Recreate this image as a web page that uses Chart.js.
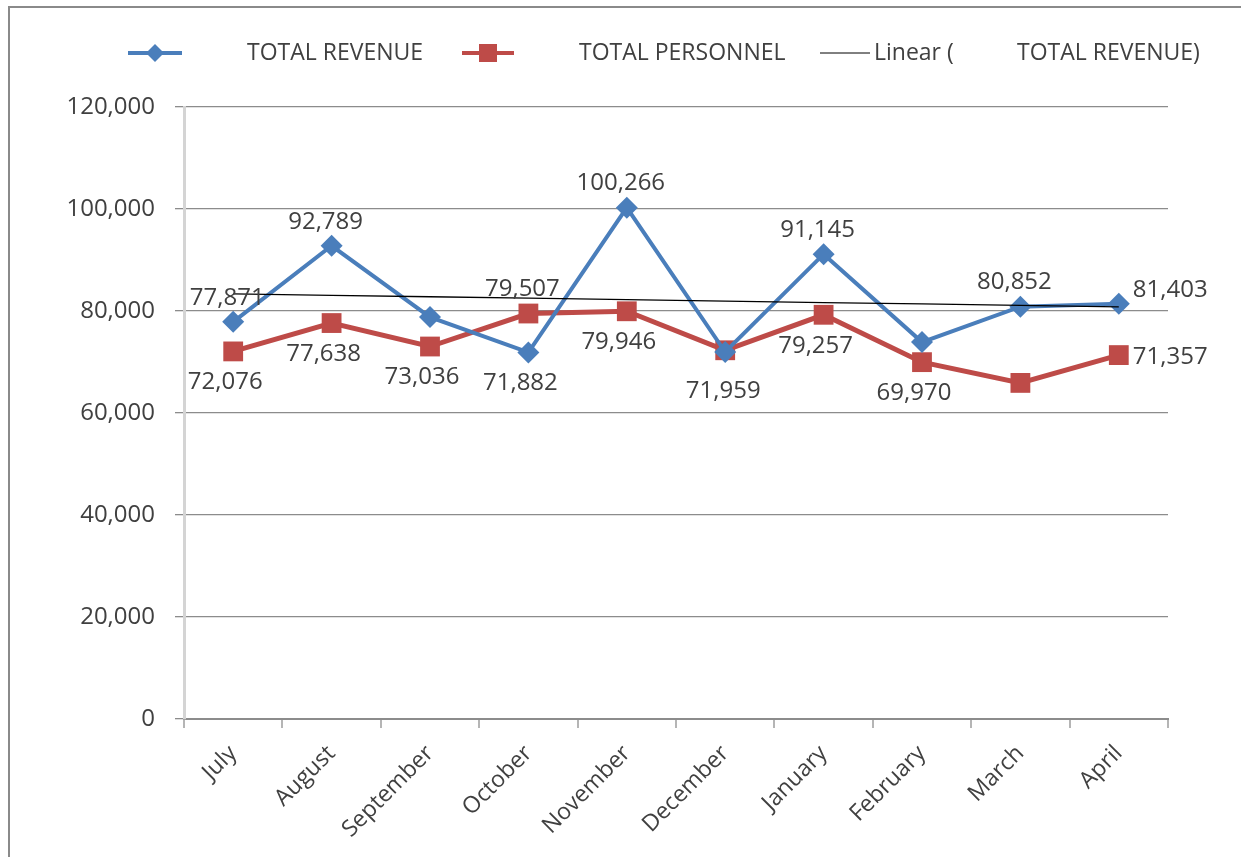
<!DOCTYPE html>
<html>
<head>
<meta charset="utf-8">
<script src="https://cdn.jsdelivr.net/npm/chart.js@4/dist/chart.umd.min.js"></script>
<style>
  html, body { margin: 0; padding: 0; background: #fff; }
  #marco { position: absolute; left: 8px; top: 6px; width: 1240px; height: 860px;
           border-left: 2px solid #8a8a8a; border-top: 2px solid #8a8a8a; }
  canvas { position: absolute; left: 0; top: 0; }
</style>
</head>
<body>
<div id="marco"></div>
<canvas id="grafico" width="1241" height="857"></canvas>
<script>
// Datos
const meses = ['July', 'August', 'September', 'October', 'November', 'December', 'January', 'February', 'March', 'April'];
const ingresos = [77871, 92789, 78800, 71882, 100266, 71959, 91145, 73900, 80852, 81403];
const personal = [72076, 77638, 73036, 79507, 79946, 72300, 79257, 69970, 65900, 71357];
const etiquetasIngresos = ['77,871', '92,789', null, '71,882', '100,266', '71,959', '91,145', null, '80,852', '81,403'];
const etiquetasPersonal = ['72,076', '77,638', '73,036', '79,507', '79,946', null, '79,257', '69,970', null, '71,357'];
const ticksY = [0, 20000, 40000, 60000, 80000, 100000, 120000];

// Posición de cada etiqueta (solo estilo)
const posIngresos = ['above', 'above', null, 'below', 'above', 'belowFar', 'above', null, 'above', 'right'];
const posPersonal = ['below', 'below', 'below', 'above', 'below', null, 'below', 'below', null, 'right'];

// Línea de tendencia lineal (mínimos cuadrados sobre TOTAL REVENUE)
function tendencia(valores) {
    const n = valores.length;
    const mx = (n - 1) / 2;
    const my = valores.reduce((a, b) => a + b, 0) / n;
    let sxy = 0, sxx = 0;
    valores.forEach((v, i) => { sxy += (i - mx) * (v - my); sxx += (i - mx) * (i - mx); });
    const m = sxy / sxx;
    return valores.map((v, i) => my + m * (i - mx));
}

const fuente = '"Open Sans", "DejaVu Sans", sans-serif';
const gris = '#404040';

// Etiquetas de datos
const pluginEtiquetas = {
    id: 'etiquetas',
    afterDatasetsDraw(chart) {
        const ctx = chart.ctx;
        ctx.save();
        ctx.font = '24px ' + fuente;
        ctx.fillStyle = gris;
        ctx.textBaseline = 'middle';
        [[0, etiquetasIngresos, posIngresos], [1, etiquetasPersonal, posPersonal]].forEach(([idx, textos, pos]) => {
            const meta = chart.getDatasetMeta(idx);
            meta.data.forEach((p, i) => {
                if (!textos[i]) return;
                let x = p.x, y = p.y;
                ctx.textAlign = 'center';
                if (pos[i] === 'above') { x -= 6; y -= 24; }
                else if (pos[i] === 'below') { x -= 8; y += 31; }
                else if (pos[i] === 'belowFar') { x -= 2; y += 39; }
                else if (pos[i] === 'right') { ctx.textAlign = 'left'; x += 14; y += (idx === 0 ? -14 : 2); }
                ctx.fillText(textos[i], x, y);
            });
        });
        ctx.restore();
    }
};

// Leyenda dibujada a mano
const pluginLeyenda = {
    id: 'leyenda',
    afterDraw(chart) {
        const ctx = chart.ctx;
        const y = 53;
        ctx.save();
        ctx.font = '23px ' + fuente;
        ctx.textBaseline = 'middle';
        ctx.textAlign = 'left';
        // azul
        ctx.strokeStyle = '#4A7EBB'; ctx.lineWidth = 4;
        ctx.beginPath(); ctx.moveTo(128, y); ctx.lineTo(182, y); ctx.stroke();
        ctx.fillStyle = '#4A7EBB';
        ctx.beginPath(); ctx.moveTo(155, y - 9); ctx.lineTo(164, y); ctx.lineTo(155, y + 9); ctx.lineTo(146, y); ctx.closePath(); ctx.fill();
        // rojo
        ctx.strokeStyle = '#BE4B48';
        ctx.beginPath(); ctx.moveTo(462, y); ctx.lineTo(514, y); ctx.stroke();
        ctx.fillStyle = '#BE4B48';
        ctx.fillRect(479, y - 9, 18, 18);
        // tendencia
        ctx.strokeStyle = '#000'; ctx.lineWidth = 1;
        ctx.beginPath(); ctx.moveTo(820, y); ctx.lineTo(870, y); ctx.stroke();
        ctx.fillStyle = gris;
        ctx.fillText(chart.data.datasets[0].label, 247, y);
        ctx.fillText(chart.data.datasets[1].label, 579, y);
        ctx.fillText('Linear (', 874, y);
        ctx.fillText(chart.data.datasets[0].label + ')', 1017, y);
        ctx.restore();
    }
};

const ctx = document.getElementById('grafico').getContext('2d');
new Chart(ctx, {
    type: 'line',
    data: {
        labels: meses,
        datasets: [
            {
                label: 'TOTAL REVENUE',
                data: ingresos,
                borderColor: '#4A7EBB',
                backgroundColor: '#4A7EBB',
                borderWidth: 4,
                pointStyle: 'rectRot',
                pointRadius: 11,
                pointBorderWidth: 0,
                tension: 0,
                order: 2
            },
            {
                label: 'TOTAL PERSONNEL',
                data: personal,
                borderColor: '#BE4B48',
                backgroundColor: '#BE4B48',
                borderWidth: 5,
                pointStyle: 'rect',
                pointRadius: 14,
                pointBorderWidth: 0,
                tension: 0,
                order: 3
            },
            {
                label: 'Linear (TOTAL REVENUE)',
                data: tendencia(ingresos),
                borderColor: '#000',
                borderWidth: 1.3,
                pointRadius: 0,
                tension: 0,
                order: 1
            }
        ]
    },
    options: {
        responsive: false,
        animation: false,
        layout: { padding: { left: 10, right: 73, top: 107, bottom: 10 } },
        plugins: {
            legend: { display: false },
            tooltip: { enabled: false }
        },
        scales: {
            x: {
                offset: true,
                afterFit: (s) => { s.height = 128; },
                grid: { offset: true, drawOnChartArea: false, drawTicks: true, tickLength: 9, color: '#b5b5b5', lineWidth: 2 },
                border: { display: true, color: '#8c8c8c', width: 2 },
                ticks: { color: gris, font: { family: fuente, size: 23 }, minRotation: 45, maxRotation: 45, padding: 12, autoSkip: false }
            },
            y: {
                min: 0,
                max: 120000,
                afterFit: (s) => { s.width = 174; },
                afterBuildTicks: (s) => { s.ticks = ticksY.map(v => ({ value: v })); },
                grid: { color: '#8c8c8c', lineWidth: 1.3, drawTicks: true, tickLength: 9 },
                border: { display: true, color: '#d4d4d4', width: 3 },
                ticks: {
                    color: gris,
                    font: { family: fuente, size: 24 },
                    padding: 20,
                    callback: (v) => v.toLocaleString('en-US')
                }
            }
        }
    },
    plugins: [pluginEtiquetas, pluginLeyenda]
});
</script>
</body>
</html>
